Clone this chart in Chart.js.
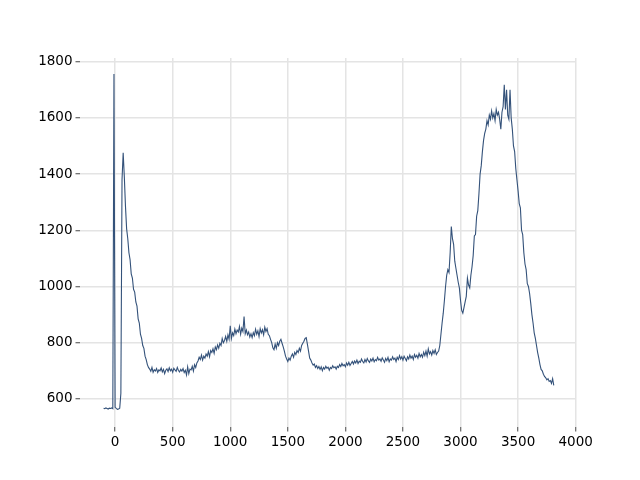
<!DOCTYPE html>
<html>
<head>
<meta charset="utf-8">
<script src="https://cdn.jsdelivr.net/npm/chart.js@4/dist/chart.umd.min.js"></script>
<style>
html,body{margin:0;padding:0;background:#fff;}
#wrap{width:640px;height:480px;}
</style>
</head>
<body>
<div id="wrap"><canvas id="c" width="640" height="480"></canvas></div>
<script>
// Sample positions: start and spacing of the recorded spectrum
const X_START = -100;
const X_STEP = 10;
// Intensity values (one row = 100 units of x)
const intensity = [
  567,565,568,566,564,567,566,568,565,1756,
  570,566,563,564,567,620,1380,1476,1390,1285,
  1205,1170,1120,1095,1045,1030,990,980,945,930,
  885,870,830,815,790,780,752,740,722,712,
  706,698,712,695,704,699,708,694,703,700,
  710,696,705,690,702,707,697,711,700,706,
  695,709,703,698,712,701,696,705,699,708,
  694,702,685,714,690,706,703,716,699,722,
  712,728,735,748,740,756,738,752,745,760,
  752,768,750,772,765,778,762,785,775,792,
  780,798,790,815,800,808,822,805,828,812,
  860,815,835,825,848,832,845,838,858,830,
  852,840,893,832,845,828,838,820,832,818,
  836,825,848,830,842,822,850,835,846,828,
  855,840,850,830,825,812,800,782,775,795,
  780,800,790,805,812,798,785,770,752,742,
  733,745,738,752,760,748,766,758,772,765,
  780,770,790,798,805,815,818,795,770,745,
  738,728,720,724,712,718,708,715,705,714,
  700,712,706,716,709,713,702,712,708,718,
  711,714,706,716,712,722,715,726,718,722,
  714,728,720,730,719,726,733,724,735,728,
  738,726,734,730,742,733,728,740,731,744,
  735,730,742,735,745,732,740,736,748,738,
  742,734,746,738,730,744,736,748,732,742,
  738,750,740,745,733,748,740,754,742,750,
  738,752,744,736,750,742,756,745,752,740,
  758,748,755,745,762,750,758,748,766,754,
  770,752,778,760,768,756,772,762,775,758,
  765,770,790,830,870,905,950,1000,1040,1060,
  1050,1120,1213,1170,1150,1090,1065,1040,1015,995,
  950,915,905,925,945,965,1030,1005,995,1040,
  1070,1110,1180,1185,1250,1270,1330,1400,1430,1480,
  1520,1545,1560,1590,1575,1610,1595,1625,1600,1615,
  1590,1630,1610,1620,1595,1560,1620,1640,1718,1630,
  1700,1610,1595,1700,1600,1560,1500,1480,1420,1380,
  1340,1295,1280,1200,1185,1120,1080,1060,1010,1000,
  975,940,900,870,835,815,790,765,745,722,
  705,700,688,680,675,668,672,662,665,655,
  672,648
];
const xTicks = [0,500,1000,1500,2000,2500,3000,3500,4000];
const yTicks = [600,800,1000,1200,1400,1600,1800];

const points = intensity.map((v,i)=>({x: X_START + i*X_STEP, y: v}));

const FONT = {family: "'DejaVu Sans', sans-serif", size: 13.5};
const GRID = '#e4e4e4';

new Chart(document.getElementById('c'), {
  type: 'line',
  data: {
    datasets: [{
      data: points,
      borderColor: '#34527a',
      borderWidth: 1.1,
      pointRadius: 0,
      tension: 0,
      fill: false
    }]
  },
  options: {
    responsive: false,
    animation: false,
    events: [],
    layout: {padding: {top: 58, right: 64, left: 0, bottom: 0}},
    plugins: {legend: {display: false}, tooltip: {enabled: false}},
    scales: {
      x: {
        type: 'linear',
        min: -305,
        max: 4003,
        afterBuildTicks: s => { s.ticks = xTicks.map(v=>({value:v})); },
        afterFit: s => { s.height = 53; },
        border: {display: false},
        grid: {color: GRID, lineWidth: 1.5, drawTicks: true, tickLength: 4.5, tickColor: '#444', tickWidth: 1},
        ticks: {font: FONT, color: '#000', padding: 3, maxRotation: 0, autoSkip: false, callback: v => String(v)}
      },
      y: {
        min: 500,
        max: 1813,
        afterBuildTicks: s => { s.ticks = yTicks.map(v=>({value:v})); },
        afterFit: s => { s.width = 80; },
        border: {display: false},
        grid: {color: GRID, lineWidth: 1.5, drawTicks: true, tickLength: 4.5, tickColor: '#444', tickWidth: 1},
        ticks: {font: FONT, color: '#000', padding: 3, autoSkip: false, callback: v => String(v)}
      }
    }
  }
});
</script>
</body>
</html>
